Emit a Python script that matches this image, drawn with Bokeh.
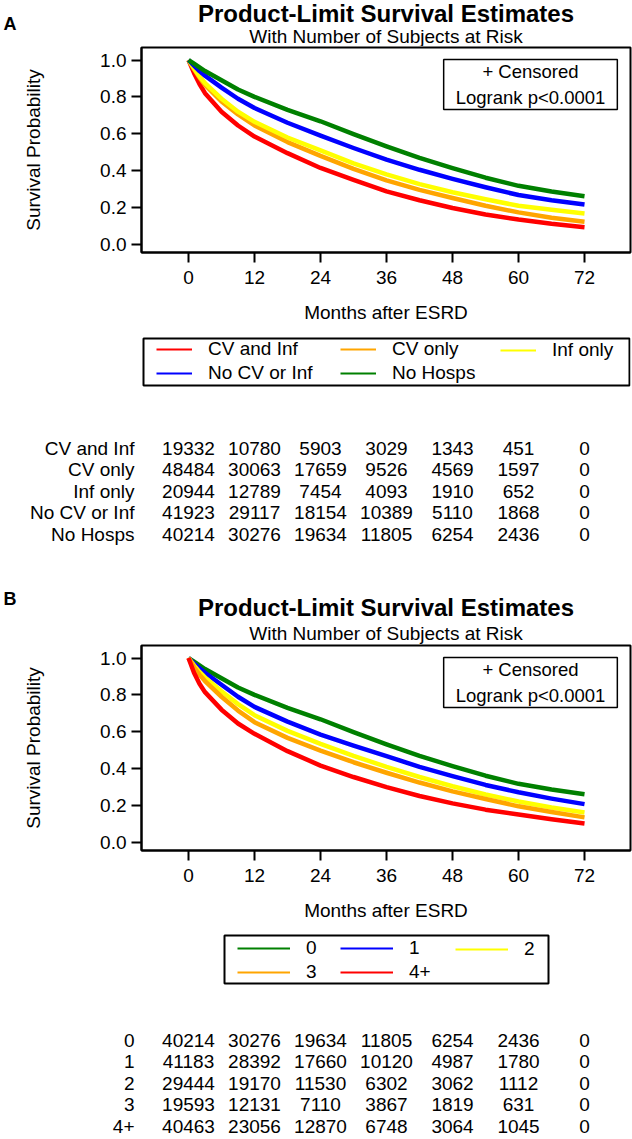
from bokeh.plotting import figure
from bokeh.layouts import column
from bokeh.models import (Range1d, FixedTicker, NumeralTickFormatter, Label, Legend,
                          LegendItem, BoxAnnotation)
from bokeh.core.properties import value
from bokeh.embed import file_html
from bokeh.resources import INLINE

FONT = "Liberation Sans"

# ---------------- data ----------------
months = [0, 1, 2, 3, 6, 9, 12, 18, 24, 30, 36, 42, 48, 54, 60, 66, 72]
risk_months = [0, 12, 24, 36, 48, 60, 72]
y_ticks = [0.0, 0.2, 0.4, 0.6, 0.8, 1.0]

# Panel A
groups_a = ["CV and Inf", "CV only", "Inf only", "No CV or Inf", "No Hosps"]
colors_a = ["#FF0000", "#FFA500", "#FFFF00", "#0000FF", "#008000"]
surv_cv_and_inf = [1.0, 0.93, 0.87, 0.82, 0.72, 0.645, 0.585, 0.495, 0.415, 0.35, 0.288, 0.24, 0.198, 0.163, 0.135, 0.112, 0.094]
surv_cv_only = [1.0, 0.95, 0.905, 0.865, 0.775, 0.705, 0.645, 0.555, 0.48, 0.41, 0.348, 0.296, 0.252, 0.21, 0.174, 0.145, 0.123]
surv_inf_only = [1.0, 0.955, 0.91, 0.875, 0.79, 0.72, 0.665, 0.58, 0.51, 0.44, 0.38, 0.327, 0.283, 0.245, 0.21, 0.188, 0.168]
surv_no_cv_or_inf = [1.0, 0.97, 0.94, 0.915, 0.85, 0.79, 0.74, 0.66, 0.59, 0.523, 0.46, 0.405, 0.356, 0.31, 0.268, 0.24, 0.217]
surv_no_hosps = [1.0, 0.98, 0.96, 0.94, 0.89, 0.84, 0.80, 0.73, 0.668, 0.598, 0.532, 0.47, 0.414, 0.362, 0.318, 0.287, 0.262]

risk_cv_and_inf = [19332, 10780, 5903, 3029, 1343, 451, 0]
risk_cv_only = [48484, 30063, 17659, 9526, 4569, 1597, 0]
risk_inf_only = [20944, 12789, 7454, 4093, 1910, 652, 0]
risk_no_cv_or_inf = [41923, 29117, 18154, 10389, 5110, 1868, 0]
risk_no_hosps = [40214, 30276, 19634, 11805, 6254, 2436, 0]

# Panel B
groups_b = ["0", "1", "2", "3", "4+"]
colors_b = ["#008000", "#0000FF", "#FFFF00", "#FFA500", "#FF0000"]
surv_0 = [1.0, 0.98, 0.96, 0.94, 0.89, 0.84, 0.80, 0.73, 0.668, 0.598, 0.532, 0.47, 0.414, 0.362, 0.318, 0.287, 0.262]
surv_1 = [1.0, 0.97, 0.945, 0.92, 0.855, 0.79, 0.735, 0.655, 0.585, 0.525, 0.468, 0.41, 0.36, 0.312, 0.272, 0.238, 0.208]
surv_2 = [1.0, 0.96, 0.925, 0.895, 0.82, 0.75, 0.69, 0.605, 0.535, 0.47, 0.41, 0.355, 0.305, 0.26, 0.222, 0.19, 0.163]
surv_3 = [1.0, 0.95, 0.91, 0.875, 0.79, 0.715, 0.652, 0.567, 0.498, 0.435, 0.378, 0.325, 0.277, 0.236, 0.196, 0.165, 0.136]
surv_4plus = [1.0, 0.92, 0.86, 0.815, 0.72, 0.645, 0.589, 0.495, 0.417, 0.355, 0.30, 0.252, 0.212, 0.178, 0.152, 0.126, 0.103]

risk_0 = [40214, 30276, 19634, 11805, 6254, 2436, 0]
risk_1 = [41183, 28392, 17660, 10120, 4987, 1780, 0]
risk_2 = [29444, 19170, 11530, 6302, 3062, 1112, 0]
risk_3 = [19593, 12131, 7110, 3867, 1819, 631, 0]
risk_4plus = [40463, 23056, 12870, 6748, 3064, 1045, 0]

TITLE = "Product-Limit Survival Estimates"
SUBTITLE = "With Number of Subjects at Risk"
INSET = "+ Censored\nLogrank p<0.0001"
XLABEL = "Months after ESRD"
YLABEL = "Survival Probability"

W = 632
BL = 141   # left border (frame left)
BR = 2     # right border
FRAME_H = 205
FRAME_W = W - BL - BR
LEG_ROW = 23   # legend row stride


def base_fig(h, top, bottom, x_range, y_range, x_axis=True, y_axis=True):
    f = figure(width=W, height=h, output_backend="svg", toolbar_location=None,
               x_range=x_range, y_range=y_range,
               x_axis_location="below" if x_axis else None,
               y_axis_location="left" if y_axis else None,
               min_border_left=BL, min_border_right=BR,
               min_border_top=top, min_border_bottom=bottom)
    f.grid.visible = False
    f.outline_line_color = None
    f.background_fill_color = "white"
    f.border_fill_color = "white"
    return f


def make_header(letter, h, title_y, sub_y, letter_standoff):
    f = base_fig(h, 0, 0, Range1d(0, 1), Range1d(0, 1), x_axis=False, y_axis=True)
    ax = f.yaxis[0]
    ax.ticker = FixedTicker(ticks=[])
    ax.axis_line_color = None
    ax.major_tick_out = 0
    ax.major_tick_in = 0
    ax.minor_tick_line_color = None
    ax.major_label_standoff = 0
    ax.axis_label = letter
    ax.axis_label_orientation = "horizontal"
    ax.axis_label_standoff = letter_standoff
    ax.axis_label_text_font = FONT
    ax.axis_label_text_font_size = "18px"
    ax.axis_label_text_font_style = "bold"
    ax.axis_label_text_color = "black"
    f.add_layout(Label(x=FRAME_W / 2, y=h - title_y, x_units="screen", y_units="screen",
                       text=TITLE, text_font=FONT, text_font_size="24px", text_font_style="bold",
                       text_align="center", text_baseline="middle", text_color="black"))
    f.add_layout(Label(x=FRAME_W / 2, y=h - sub_y, x_units="screen", y_units="screen",
                       text=SUBTITLE, text_font=FONT, text_font_size="19px",
                       text_align="center", text_baseline="middle", text_color="black"))
    return f


def make_plot(groups, colors, curves, h, x_range):
    p = base_fig(h, 1, h - 1 - FRAME_H, x_range, Range1d(-0.0434, 1.0678))
    p.outline_line_color = "black"
    p.outline_line_width = 2
    for g, c, ys in zip(groups, colors, curves):
        p.line(months, ys, line_color=c, line_width=4.5, line_join="round")
    for ax in (p.xaxis[0], p.yaxis[0]):
        ax.axis_line_color = "black"
        ax.axis_line_width = 2
        ax.major_tick_line_color = "black"
        ax.major_tick_line_width = 2
        ax.major_tick_out = 10
        ax.major_tick_in = 0
        ax.minor_tick_line_color = None
        ax.major_label_text_font = FONT
        ax.major_label_text_font_size = "19px"
        ax.major_label_text_color = "black"
        ax.axis_label_text_font = FONT
        ax.axis_label_text_font_size = "19px"
        ax.axis_label_text_font_style = "normal"
        ax.axis_label_text_color = "black"
    p.xaxis[0].ticker = FixedTicker(ticks=risk_months)
    p.xaxis[0].axis_label = XLABEL
    p.xaxis[0].major_label_standoff = 8
    p.xaxis[0].axis_label_standoff = 15
    p.yaxis[0].ticker = FixedTicker(ticks=y_ticks)
    p.yaxis[0].formatter = NumeralTickFormatter(format="0.0")
    p.yaxis[0].axis_label = YLABEL
    p.yaxis[0].major_label_standoff = 5
    p.yaxis[0].axis_label_standoff = 53
    p.add_layout(Label(x=389, y=FRAME_H - 37, x_units="screen", y_units="screen",
                       text=INSET, text_font=FONT, text_font_size="18.5px",
                       text_align="center", text_baseline="middle", text_color="black",
                       border_line_color="black", border_line_width=1.5,
                       background_fill_color="white", padding=(12, 2)))
    return p


def make_legend(groups, colors, curves, h, box, glyph_w, col_x, leg_y):
    lf = base_fig(h, 0, 0, Range1d(-8.5, 80.4), Range1d(2, 3), x_axis=False, y_axis=False)
    # hidden copies of the curves (outside the visible range) feed the legend glyphs
    rends = [lf.line(months, ys, line_color=c, line_width=2) for c, ys in zip(colors, curves)]
    left, right, top, bottom = box
    lf.add_layout(BoxAnnotation(left=left, right=right, top=top, bottom=bottom,
                                left_units="screen", right_units="screen",
                                top_units="screen", bottom_units="screen",
                                fill_color=None, fill_alpha=0, line_color="black",
                                line_width=2, line_alpha=1))
    ncol = 3
    nrow = (len(groups) + ncol - 1) // ncol
    for ci in range(ncol):
        idx = list(range(ci, len(groups), ncol))
        items = [LegendItem(label=groups[i], renderers=[rends[i]]) for i in idx]
        y = leg_y + (nrow - len(idx)) * LEG_ROW
        leg = Legend(items=items, location=(col_x[ci], y), orientation="vertical",
                     spacing=2, padding=0, margin=0, border_line_color=None,
                     background_fill_alpha=0, glyph_width=glyph_w, label_standoff=16,
                     label_text_font=FONT, label_text_font_size="19px", label_text_color="black")
        lf.add_layout(leg)
    return lf


def make_table(groups, risks, h, top, frame_h, x_range, row_h=21.5):
    rows = list(range(len(groups)))
    t = base_fig(h, top, h - top - frame_h, x_range, Range1d(-0.5 + frame_h / row_h, -0.5),
                 x_axis=False, y_axis=True)
    ya = t.yaxis[0]
    ya.ticker = FixedTicker(ticks=rows)
    ya.major_label_overrides = {i: g for i, g in zip(rows, groups)}
    ya.axis_line_color = None
    ya.major_tick_line_color = None
    ya.major_tick_out = 0
    ya.major_tick_in = 0
    ya.minor_tick_line_color = None
    ya.major_label_standoff = 7
    ya.major_label_text_font = FONT
    ya.major_label_text_font_size = "19px"
    ya.major_label_text_color = "black"
    for i, counts in zip(rows, risks):
        t.text(x=risk_months, y=[i] * len(risk_months), text=[str(c) for c in counts],
               text_align="center", text_baseline="middle", text_font=value(FONT),
               text_font_size="19px", text_color="black")
    return t


xr = Range1d(-8.545, 80.36)

curves_a = [surv_cv_and_inf, surv_cv_only, surv_inf_only, surv_no_cv_or_inf, surv_no_hosps]
risks_a = [risk_cv_and_inf, risk_cv_only, risk_inf_only, risk_no_cv_or_inf, risk_no_hosps]
curves_b = [surv_0, surv_1, surv_2, surv_3, surv_4plus]
risks_b = [risk_0, risk_1, risk_2, risk_3, risk_4plus]

# panel A  (page y 0 .. 553)
ha = make_header("A", 46, 13, 36, 125)
pa = make_plot(groups_a, colors_a, curves_a, 284, xr)
la = make_legend(groups_a, colors_a, curves_a, 65, (2, 488, 57, 10), 36, [15, 199, 359], 11)
ta = make_table(groups_a, risks_a, 158, 42, 108, xr)

# panel B  (page y 553 .. 1139)
hb = make_header("B", 91, 54, 80, 125)
pb = make_plot(groups_b, colors_b, curves_b, 284, xr)
lb = make_legend(groups_b, colors_b, curves_b, 65, (83, 407, 58, 10), 53, [96, 199, 314], 10)
tb = make_table(groups_b, risks_b, 146, 36, 110, xr)

layout = column(ha, pa, la, ta, hb, pb, lb, tb, spacing=0)
open("out.html", "w").write(file_html(layout, INLINE))
